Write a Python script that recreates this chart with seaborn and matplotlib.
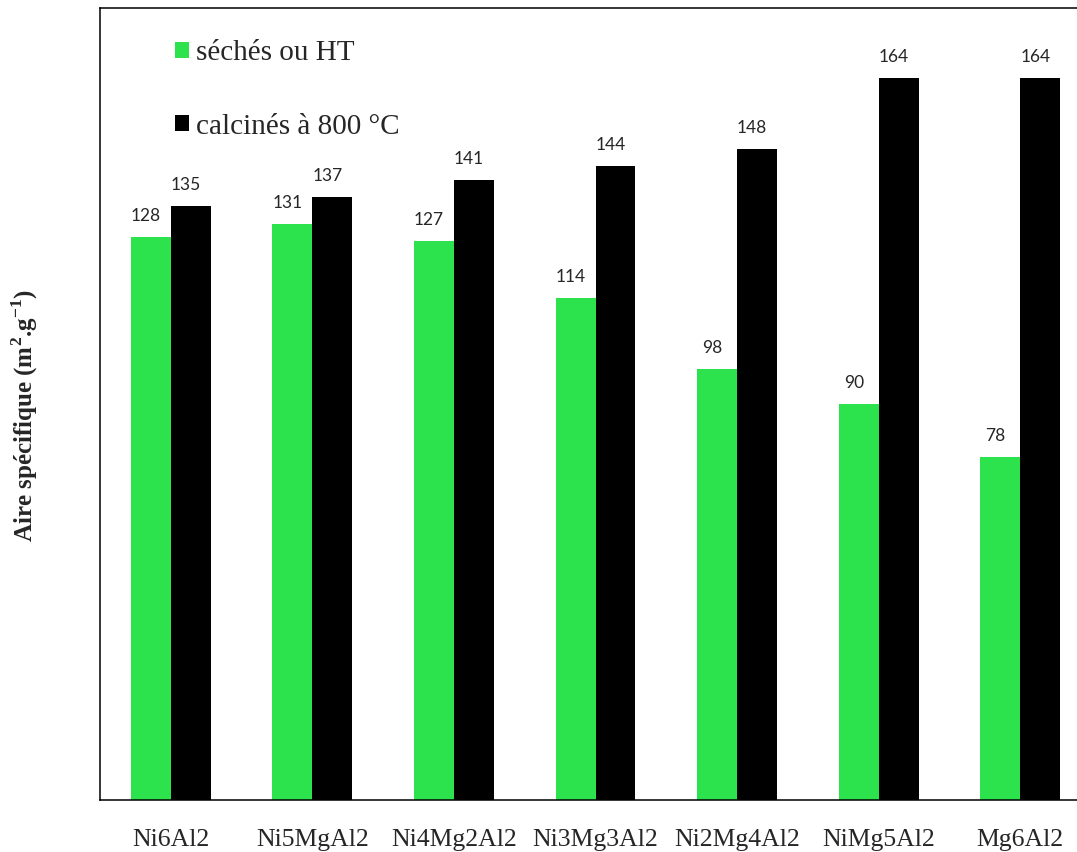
import pandas as pd
import seaborn as sns
import matplotlib.pyplot as plt
from matplotlib.patches import Patch

# --- Données ---
echantillons = ["Ni6Al2", "Ni5MgAl2", "Ni4Mg2Al2", "Ni3Mg3Al2", "Ni2Mg4Al2", "NiMg5Al2", "Mg6Al2"]
seches_ht = [128, 131, 127, 114, 98, 90, 78]
calcines_800 = [135, 137, 141, 144, 148, 164, 164]
series = ["séchés ou HT", "calcinés à 800 °C"]
couleurs = ["#2de34d", "#000000"]

df = pd.DataFrame({
    "echantillon": echantillons * 2,
    "aire": seches_ht + calcines_800,
    "serie": [series[0]] * len(echantillons) + [series[1]] * len(echantillons),
})

sns.set_style("white")
plt.rcParams["mathtext.fontset"] = "custom"
plt.rcParams["mathtext.rm"] = "Liberation Serif"
plt.rcParams["mathtext.bf"] = "Liberation Serif:bold"

fig = plt.figure(figsize=(10.77, 8.52), dpi=100)
ax = fig.add_axes([100 / 1077, 52 / 852, 991 / 1077, 792 / 852])

sns.barplot(
    data=df, x="echantillon", y="aire", hue="serie", palette=couleurs,
    width=0.565, gap=0, saturation=1, linewidth=0, ax=ax,
)

# étiquettes de valeurs au-dessus des barres
for cont in ax.containers:
    for bar in cont:
        h = bar.get_height()
        ax.annotate(f"{h:.0f}", (bar.get_x() + bar.get_width() / 2, h),
                    xytext=(-3.5, 11.5), textcoords="offset points",
                    ha="center", va="baseline", fontsize=12.5, family="Lato")

ax.set_xlim(-0.5, 6.5)
ax.set_ylim(0, 180)
ax.set_yticks([])
ax.set_xlabel("")
ax.tick_params(axis="x", length=0, pad=21)
for lab in ax.get_xticklabels():
    lab.set_fontfamily("Liberation Serif")
    lab.set_fontsize(18.5)

for s in ["left", "bottom", "top"]:
    ax.spines[s].set_color("black")
    ax.spines[s].set_linewidth(1.1)
ax.spines["right"].set_visible(False)

ax.set_ylabel("Aire spécifique (m$^{\\mathbf{2}}$.g$^{\\mathbf{-1}}$)",
              family="Liberation Serif", fontweight="bold", fontsize=18)
ax.yaxis.set_label_coords(-0.0605, 0.485)

# légende
ax.get_legend().remove()
handles = [Patch(facecolor=c, edgecolor="none") for c in couleurs]
ax.legend(handles, series, loc="upper left", bbox_to_anchor=(0.076, 0.959),
          frameon=False, prop={"family": "Liberation Serif", "size": 21},
          handlelength=0.48, handleheight=0.48, handletextpad=0.24,
          labelspacing=1.62, borderpad=0, borderaxespad=0)

fig.savefig("out.png", dpi=100)
